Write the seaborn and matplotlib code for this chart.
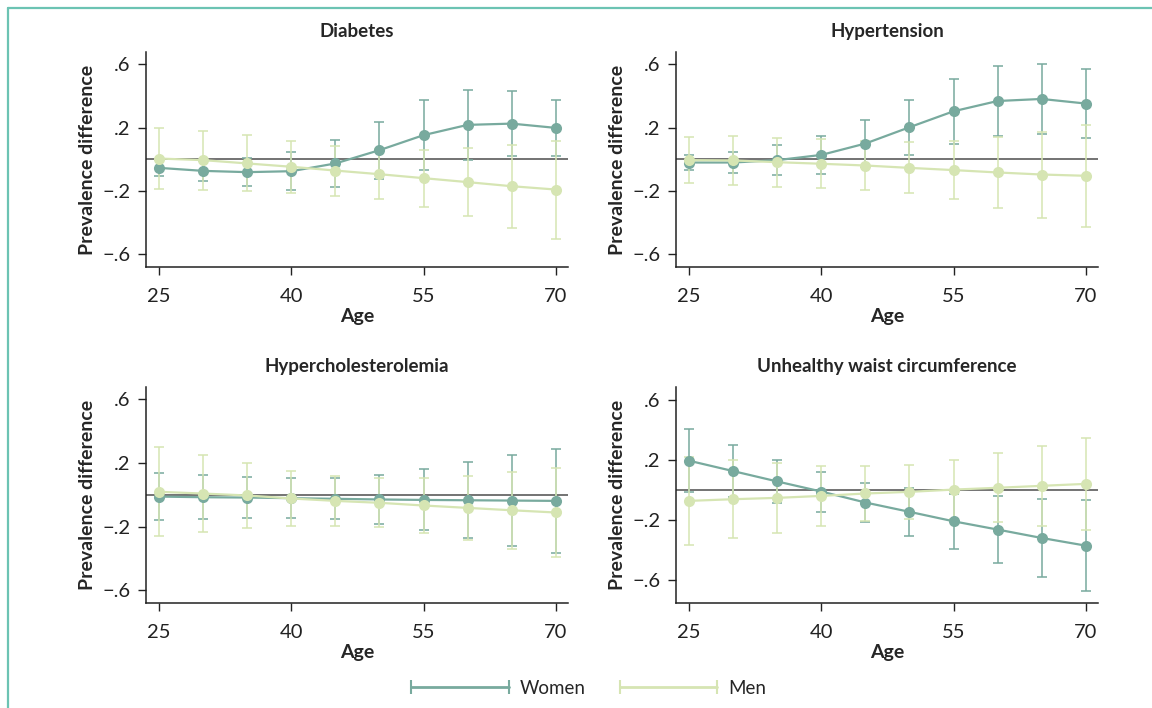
import numpy as np
import pandas as pd
import matplotlib
matplotlib.use('Agg')
import matplotlib.pyplot as plt
import seaborn as sns
from matplotlib.lines import Line2D
from matplotlib.ticker import FuncFormatter

sns.set_style('white')
plt.rcParams['font.family'] = ['Lato', 'DejaVu Sans']

# Datos
ages = [25, 30, 35, 40, 45, 50, 55, 60, 65, 70]
titles = ['Diabetes', 'Hypertension', 'Hypercholesterolemia', 'Unhealthy waist circumference']

# Diabetes
diab_women = [-0.055, -0.074, -0.082, -0.076, -0.027, 0.057, 0.152, 0.217, 0.225, 0.198]
diab_women_ci = [0.05, 0.065, 0.09, 0.12, 0.15, 0.18, 0.22, 0.22, 0.205, 0.178]
diab_men = [0.004, -0.006, -0.027, -0.048, -0.072, -0.095, -0.12, -0.145, -0.171, -0.192]
diab_men_ci = [0.195, 0.187, 0.177, 0.165, 0.158, 0.16, 0.18, 0.215, 0.262, 0.31]

# Hypertension
hyp_women = [-0.021, -0.021, -0.006, 0.027, 0.099, 0.202, 0.303, 0.368, 0.381, 0.352]
hyp_women_ci = [0.048, 0.068, 0.093, 0.122, 0.147, 0.174, 0.205, 0.222, 0.222, 0.22]
hyp_men = [-0.006, -0.008, -0.019, -0.029, -0.04, -0.055, -0.069, -0.084, -0.097, -0.105]
hyp_men_ci = [0.145, 0.153, 0.155, 0.155, 0.158, 0.161, 0.184, 0.223, 0.272, 0.323]

# Hypercholesterolemia
chol_women = [-0.011, -0.015, -0.017, -0.021, -0.025, -0.029, -0.032, -0.034, -0.036, -0.038]
chol_women_ci = [0.146, 0.14, 0.131, 0.124, 0.129, 0.155, 0.192, 0.24, 0.288, 0.327]
chol_men = [0.019, 0.008, -0.004, -0.023, -0.038, -0.05, -0.067, -0.082, -0.097, -0.111]
chol_men_ci = [0.28, 0.24, 0.203, 0.173, 0.157, 0.155, 0.172, 0.2, 0.242, 0.282]

# Unhealthy waist circumference
waist_women = [0.196, 0.127, 0.058, -0.009, -0.082, -0.144, -0.207, -0.262, -0.318, -0.369]
waist_women_ci = [0.21, 0.175, 0.146, 0.133, 0.133, 0.158, 0.184, 0.223, 0.261, 0.301]
waist_men = [-0.071, -0.06, -0.051, -0.038, -0.022, -0.011, 0.004, 0.016, 0.029, 0.042]
waist_men_ci = [0.291, 0.261, 0.231, 0.202, 0.183, 0.181, 0.198, 0.229, 0.268, 0.306]

ylims = [(-0.682, 0.678), (-0.682, 0.678), (-0.68, 0.678), (-0.751, 0.687)]

women_color = '#78aa9e'
men_color = '#d6e5b3'
frame_color = '#6cc3b3'

panels = [
    (diab_women, diab_women_ci, diab_men, diab_men_ci),
    (hyp_women, hyp_women_ci, hyp_men, hyp_men_ci),
    (chol_women, chol_women_ci, chol_men, chol_men_ci),
    (waist_women, waist_women_ci, waist_men, waist_men_ci),
]

# posiciones de los ejes en píxeles (izq, arriba, der, abajo)
W, H = 1152, 708
boxes = [(146, 52, 568, 267), (676, 52, 1098, 267),
         (146, 387, 568, 603), (676, 387, 1098, 603)]

fig = plt.figure(figsize=(11.52, 7.08), dpi=100)


def fmt(v, pos):
    s = f'{v:.1f}'
    s = s.replace('0.', '.')
    return s.replace('-', '\u2212')


for i, (w, wci, m, mci) in enumerate(panels):
    l, t, r, b = boxes[i]
    ax = fig.add_axes([l / W, 1 - b / H, (r - l) / W, (b - t) / H])
    df = pd.DataFrame({
        'Age': ages * 2,
        'val': w + m,
        'ci': wci + mci,
        'sex': ['Women'] * len(ages) + ['Men'] * len(ages),
    })
    ax.axhline(0, color='#4d4d4d', lw=1.1, zorder=1)
    for sex, col in [('Women', women_color), ('Men', men_color)]:
        d = df[df['sex'] == sex]
        ax.errorbar(d['Age'], d['val'], yerr=d['ci'], fmt='none', ecolor=col,
                    elinewidth=1.1, capsize=3.5, capthick=1.1, zorder=2)
        sns.lineplot(data=d, x='Age', y='val', ax=ax, color=col, marker='o',
                     markersize=8, markeredgewidth=0, linewidth=1.6, zorder=3,
                     legend=False)
    ax.set_xlim(23.5, 71.4)
    ax.set_ylim(*ylims[i])
    ax.set_xticks([25, 40, 55, 70])
    ax.set_yticks([0.6, 0.2, -0.2, -0.6])
    ax.yaxis.set_major_formatter(FuncFormatter(fmt))
    ax.tick_params(axis='both', direction='out', length=6, width=1, labelsize=14.5,
                   left=True, bottom=True, colors='#222222', pad=5)
    ax.tick_params(axis='x', pad=9)
    for s in ['top', 'right']:
        ax.spines[s].set_visible(False)
    for s in ['left', 'bottom']:
        ax.spines[s].set_color('#222222')
        ax.spines[s].set_linewidth(1.1)
    ax.set_title(titles[i], fontsize=13.5, fontweight='bold', pad=11)
    ax.set_xlabel('Age', fontsize=14, fontweight='bold', labelpad=2)
    ax.set_ylabel('Prevalence difference', fontsize=14, fontweight='bold', labelpad=5)

# leyenda
handles = [
    Line2D([0], [0], color=women_color, lw=2, marker='|', markersize=10,
           markeredgewidth=1.5),
    Line2D([0], [0], color=men_color, lw=2, marker='|', markersize=10,
           markeredgewidth=1.5),
]
fig.legend(handles, ['Women', 'Men'], loc='center', bbox_to_anchor=(586 / W, 1 - 688 / H),
           ncol=2, frameon=False, fontsize=13.5, handlelength=5.8, handletextpad=0.3,
           columnspacing=1.5, numpoints=2)

# marco
fig.add_artist(Line2D([8 / W, 1], [1 - 8 / H, 1 - 8 / H], color=frame_color, lw=1.6,
                      transform=fig.transFigure))
fig.add_artist(Line2D([8 / W, 8 / W], [0, 1 - 8 / H], color=frame_color, lw=1.6,
                      transform=fig.transFigure))

fig.savefig('out.png', dpi=100)
